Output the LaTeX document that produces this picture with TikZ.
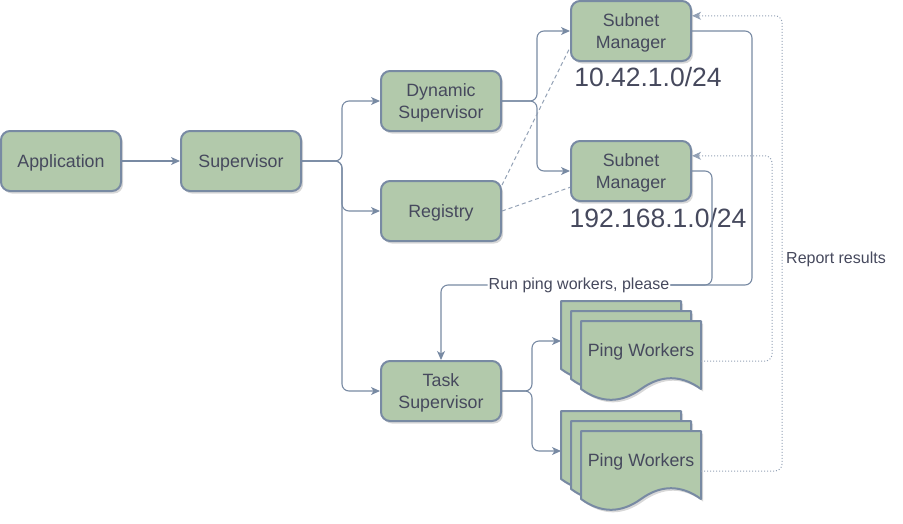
\documentclass[tikz,border=0pt]{standalone}
\usepackage{fontspec}
\setmainfont{Liberation Sans}
\usepackage{tikz}
\usetikzlibrary{arrows.meta,positioning,shadows}
\definecolor{sage} {HTML}{B2C9AB}
\definecolor{slate}{HTML}{788AA3}
\definecolor{ink}  {HTML}{46495D}
\tikzset{
  softshadow/.style={drop shadow={shadow xshift=2pt,shadow yshift=-2.5pt,opacity=.22,fill=black!70}},
  box/.style={draw=slate,fill=sage,line width=2pt,rounded corners=9pt,
              minimum width=120pt,minimum height=60pt,align=center,text=ink,
              font=\fontsize{17.8}{22}\selectfont,text depth=-1.5pt,softshadow},
  docpage/.style={draw=slate,fill=sage,line width=2pt,line join=round,softshadow},
  doctext/.style={text=ink,font=\fontsize{17.8}{22}\selectfont,text depth=-1.5pt},
  netlabel/.style={text=ink,font=\fontsize{26.5}{30}\selectfont},
  edgelabel/.style={text=ink,fill=white,inner sep=1pt,font=\fontsize{16}{19}\selectfont},
  wire/.style={draw=slate,line width=1.1pt,rounded corners=7pt},
  link/.style={wire,-{Stealth[length=9pt,width=8pt,inset=2.5pt]}},
  weak/.style={draw=slate!80,line width=1pt,dash pattern=on 4pt off 3pt},
  report/.style={draw=slate!80,line width=1pt,dash pattern=on 1pt off 2pt,rounded corners=7pt,
                 -{Stealth[length=9pt,width=8pt,inset=2.5pt]}},
}
\begin{document}
\begin{tikzpicture}[x=1pt,y=-1pt]
\useasboundingbox (0,0) rectangle (903,523);
% boxes
\node[box] (app)  at (61,161)  {Application};
\node[box] (sup)  at (241,161) {Supervisor};
\node[box] (dyn)  at (441,101) {Dynamic\\Supervisor};
\node[box] (reg)  at (441,211) {Registry};
\node[box] (task) at (441,391) {Task\\Supervisor};
\node[box] (smA)  at (631,31)  {Subnet\\Manager};
\node[box] (smB)  at (631,171) {Subnet\\Manager};
\node[netlabel] (netA) at (648,77)  {10.42.1.0/24};
\node[netlabel] (netB) at (658,218) {192.168.1.0/24};
% stacked ping worker pages
\foreach \sy/\nm in {301/A,411/B} {
  \foreach \dx in {0,10,20}
    \draw[docpage,shift={(561+\dx,\sy+\dx)}] (0,0) -- (120,0) -- (120,68)
      .. controls (100,53.6) and (80,53.6) .. (60,68)
      .. controls (40,82.4) and (20,82.4) .. (0,68) -- cycle;
  \node[doctext] (pw\nm) at (641,\sy+49) {Ping Workers};
  \coordinate (pw\nm-in)  at (561,\sy+40);
  \coordinate (pw\nm-out) at (701,\sy+60);
}
% tree
\draw[link] (app) -- (sup);
\draw[link] (sup.east) -- ++(40,0) |- (dyn);
\draw[link] (sup.east) -- ++(40,0) |- (reg);
\draw[link] (sup.east) -- ++(40,0) |- (task);
\draw[link] (dyn.east) -- ++(35,0) |- (smA);
\draw[link] (dyn.east) -- ++(35,0) |- (smB);
\draw[weak] (reg.23) -- (smA.195);
\draw[weak] (reg.east) -- (smB.195);
% requests to the task supervisor
\node[edgelabel] (run) at (579,285) {Run ping workers, please};
\draw[wire] (smA.east) -- ++(60,0) |- (run.east);
\draw[wire] (smB.east) -- ++(20,0) |- (run.east);
\draw[link] (run.west) -| (task.north);
\draw[link] (task.east) -- ++(30,0) |- (pwA-in);
\draw[link] (task.east) -- ++(30,0) |- (pwB-in);
% results
\draw[report] (pwA-out) -- ++(71,0) |- (smB.14);
\draw[report] (pwB-out) -- ++(81,0) |- (smA.14);
\node[edgelabel,fill=none,anchor=west] (rep) at (785,259) {Report results};
\end{tikzpicture}
\end{document}
